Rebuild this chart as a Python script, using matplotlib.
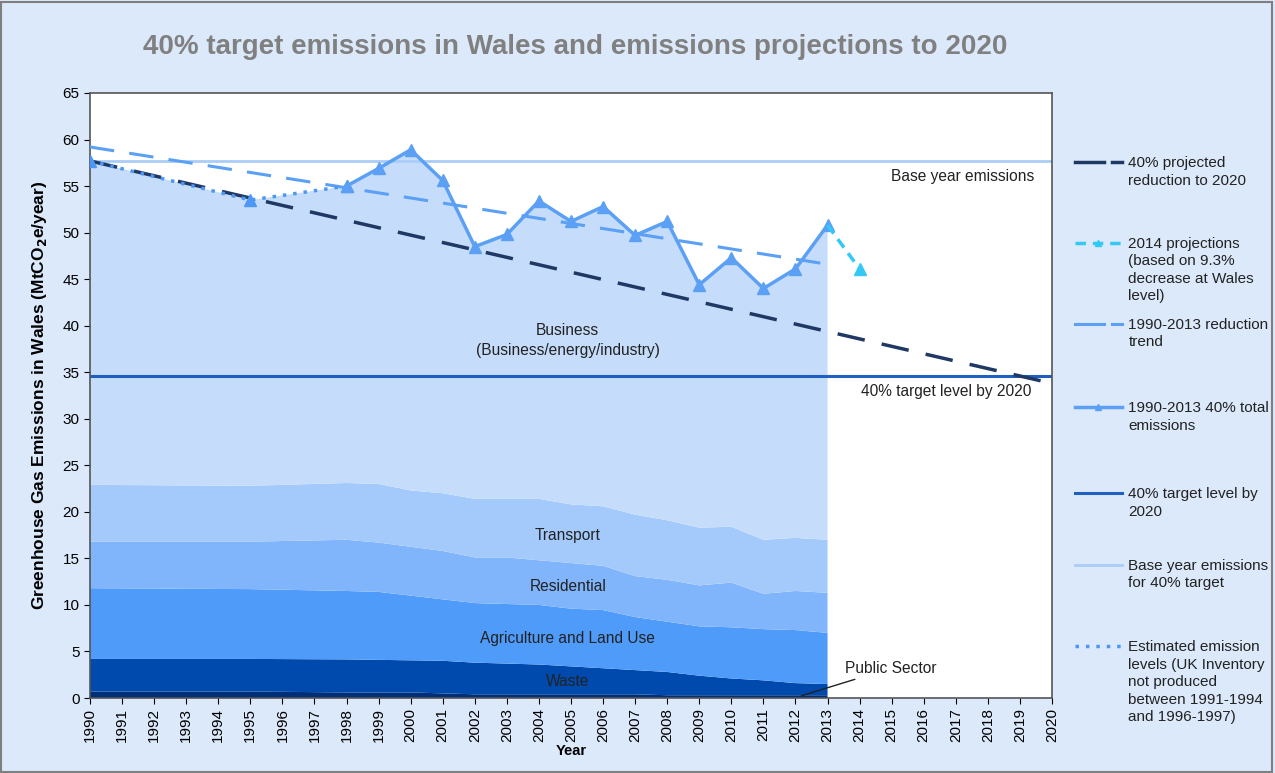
import matplotlib.pyplot as plt
from matplotlib.lines import Line2D
from matplotlib.patches import Rectangle

plt.rcParams['font.family'] = ['Liberation Sans', 'DejaVu Sans']

# Years with inventory data (1991-1994 and 1996-1997 not produced)
anios = [1990, 1995, 1998, 1999, 2000, 2001, 2002, 2003, 2004, 2005,
         2006, 2007, 2008, 2009, 2010, 2011, 2012, 2013]

# Sector emissions, MtCO2e/year
sector_publico = [0.7, 0.7, 0.6, 0.6, 0.6, 0.5, 0.4, 0.4, 0.4, 0.4,
                  0.4, 0.4, 0.3, 0.3, 0.3, 0.3, 0.3, 0.3]
residuos = [3.5, 3.5, 3.55, 3.5, 3.45, 3.5, 3.4, 3.3, 3.2, 3.0,
            2.8, 2.6, 2.5, 2.1, 1.8, 1.6, 1.3, 1.2]
agricultura = [7.6, 7.5, 7.35, 7.3, 6.95, 6.6, 6.4, 6.4, 6.4, 6.2,
               6.25, 5.7, 5.4, 5.3, 5.5, 5.5, 5.7, 5.5]
residencial = [5.0, 5.1, 5.5, 5.3, 5.25, 5.2, 4.9, 5.0, 4.8, 4.9,
               4.75, 4.4, 4.5, 4.4, 4.8, 3.8, 4.2, 4.3]
transporte = [6.1, 6.0, 6.1, 6.3, 6.05, 6.2, 6.3, 6.3, 6.6, 6.3,
              6.4, 6.6, 6.4, 6.2, 6.0, 5.8, 5.7, 5.7]
negocios = [34.8, 30.7, 31.9, 33.9, 36.6, 33.6, 27.1, 28.4, 32.0, 30.4,
            32.2, 30.0, 32.1, 26.1, 28.9, 27.0, 28.9, 33.8]

base = 57.7
objetivo = 34.6
proy_anios = [1990, 2020]
proy_valores = [57.7, 33.8]
tendencia_anios = [1990, 2013]
tendencia_valores = [59.2, 46.6]
proy2014_anios = [2013, 2014]
proy2014_valores = [50.8, 46.1]

total = [sum(v) for v in zip(sector_publico, residuos, agricultura,
                             residencial, transporte, negocios)]

fig = plt.figure(figsize=(12.75, 7.73), dpi=100, facecolor='#dce9fb')
ax = fig.add_axes([0.0706, 0.097, 0.7545, 0.7827])
ax.set_facecolor('white')

colores = ['#002f7a', '#004aad', '#4f9bfa', '#80b4fb', '#a4c9fb', '#c5ddfa']
ax.stackplot(anios, sector_publico, residuos, agricultura, residencial,
             transporte, negocios, colors=colores, linewidth=0, zorder=1)

ax.axhline(base, color='#a9cdf7', lw=2, zorder=2)
ax.axhline(objetivo, color='#1f5fbf', lw=2.2, zorder=2)
ax.plot(tendencia_anios, tendencia_valores, color='#5ba0f5', lw=2.2,
        dashes=(8, 5), zorder=3)
ax.plot(proy_anios, proy_valores, color='#1f3864', lw=2.5,
        dashes=(8, 5), zorder=3)

# estimated years (dotted) then inventory years (solid)
ax.plot(anios[:3], total[:3], color='#4d98f5', lw=2.5, ls=(0, (1, 2)),
        marker='^', ms=8, zorder=4)
ax.plot(anios[2:], total[2:], color='#5ba0f5', lw=2.5,
        marker='^', ms=8, zorder=4)
ax.plot(proy2014_anios, proy2014_valores, color='#33c9f5', lw=2.5,
        dashes=(3, 2), marker='^', ms=8, markevery=[1], zorder=4)

ax.set_xlim(1990, 2020)
ax.set_ylim(0, 65)
ax.set_xticks(range(1990, 2021))
ax.set_xticklabels([str(a) for a in range(1990, 2021)], rotation=90, fontsize=11)
ax.set_yticks(range(0, 66, 5))
ax.tick_params(axis='y', labelsize=11, length=4)
ax.tick_params(axis='x', length=4)
for s in ax.spines.values():
    s.set_color('#555555')
    s.set_linewidth(1.2)

ax.set_xlabel('Year', fontsize=10.5, fontweight='bold', labelpad=1)
ax.set_ylabel(r'Greenhouse Gas Emissions in Wales (MtCO$_\mathbf{2}$e/year)',
              fontsize=12.5, fontweight='bold', labelpad=10)

fig.text(0.451, 0.939, '40% target emissions in Wales and emissions projections to 2020',
         ha='center', va='center', fontsize=20, fontweight='bold', color='#808080')

etiquetas = [('Business\n(Business/energy/industry)', 2004.9, 38.4),
             ('Transport', 2004.9, 17.5),
             ('Residential', 2004.9, 12.0),
             ('Agriculture and Land Use', 2004.9, 6.4),
             ('Waste', 2004.9, 1.8)]
for txt, x, y in etiquetas:
    ax.text(x, y, txt, ha='center', va='center', fontsize=11.2,
            color='#222222', linespacing=1.45, zorder=5)

ax.text(2017.2, 56.0, 'Base year emissions', ha='center', va='center',
        fontsize=11.2, color='#222222')
ax.text(2016.7, 32.9, '40% target level by 2020', ha='center', va='center',
        fontsize=11.2, color='#222222')
ax.annotate('Public Sector', xy=(2012.1, 0.15), xytext=(2013.55, 3.2),
            fontsize=11.2, color='#222222', va='center',
            arrowprops=dict(arrowstyle='-', color='#222222', lw=1))

# legend drawn by hand on the right
largo = [0.843, 0.866, 0.872, 0.880]
entradas = [
    ('trazos', dict(color='#1f3864', lw=2.5),
     '40% projected\nreduction to 2020', 0.790),
    ('proy', dict(color='#33c9f5', lw=2.5, dashes=(3, 2)),
     '2014 projections\n(based on 9.3%\ndecrease at Wales\nlevel)', 0.686),
    ('trazos', dict(color='#5ba0f5', lw=2.2),
     '1990-2013 reduction\ntrend', 0.581),
    ('marca', dict(color='#5ba0f5', lw=2.5),
     '1990-2013 40% total\nemissions', 0.473),
    ('linea', dict(color='#1f5fbf', lw=2.2),
     '40% target level by\n2020', 0.362),
    ('linea', dict(color='#a9cdf7', lw=2),
     'Base year emissions\nfor 40% target', 0.269),
    ('linea', dict(color='#4d98f5', lw=2.5, ls=(0, (1, 2))),
     'Estimated emission\nlevels (UK Inventory\nnot produced\nbetween 1991-1994\nand 1996-1997)', 0.164),
]
for tipo, estilo, txt, y in entradas:
    if tipo == 'trazos':
        fig.add_artist(Line2D(largo[:2], [y, y], transform=fig.transFigure, **estilo))
        fig.add_artist(Line2D(largo[2:], [y, y], transform=fig.transFigure, **estilo))
    else:
        fig.add_artist(Line2D([largo[0], largo[3]], [y, y],
                              transform=fig.transFigure, **estilo))
    if tipo in ('proy', 'marca'):
        fig.add_artist(Line2D([0.8615], [y], transform=fig.transFigure,
                              color=estilo['color'], marker='^', ms=5, ls='none'))
    fig.text(0.885, y + 0.008, txt, ha='left', va='top', fontsize=11,
             color='#222222', linespacing=1.32)

fig.add_artist(Rectangle((0.001, 0.001), 0.997, 0.997, transform=fig.transFigure,
                         fill=False, edgecolor='#7f7f7f', lw=1.5))

fig.savefig('out.png', dpi=100, facecolor=fig.get_facecolor())
